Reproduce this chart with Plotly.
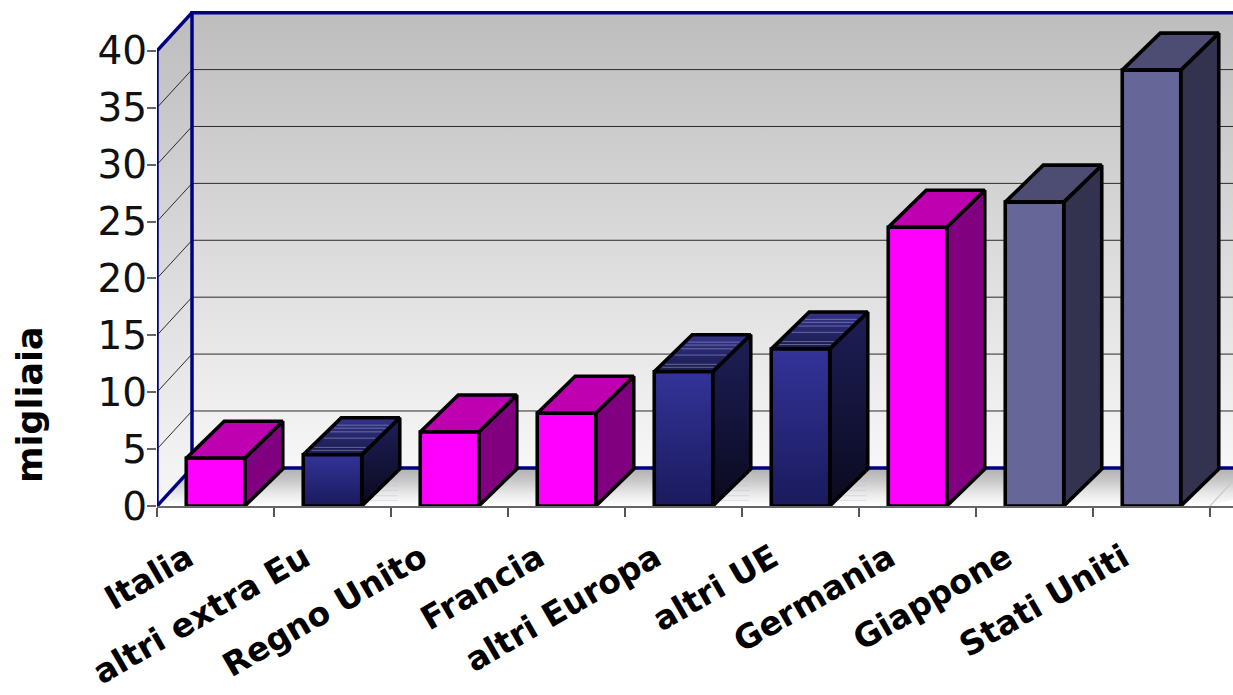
import plotly.graph_objects as go

categories = ["Italia", "altri extra Eu", "Regno Unito", "Francia", "altri Europa",
              "altri UE", "Germania", "Giappone", "Stati Uniti"]
values = [4.2, 4.5, 6.5, 8.15, 11.8, 13.8, 24.5, 26.7, 38.3]
groups = ["pink", "navy", "pink", "pink", "navy", "navy", "pink", "slate", "slate"]
y_ticks = [0, 5, 10, 15, 20, 25, 30, 35, 40]

PX_X, PX_Y = 117.0, 11.38
DX, DY = 35 / PX_X, 3.35          # wall depth, in axis units
BDX, BDY = 38 / PX_X, 3.25        # bar depth
BAR_W = 0.5
X_MAX = 1076 / PX_X
Y_MAX = 501 / PX_Y
NAVY = "#000080"

faces = {
    "pink": (["#ff00ff", "#ff00ff"], ["#800080", "#800080"], ["#bf00b0", "#bf00b0"]),
    "navy": (["#1a1a5c", "#333399"], ["#0a0a1e", "#1e1e58"], ["#1a1a4c", "#33338a"]),
    "slate": (["#666699", "#666699"], ["#333350", "#333350"], ["#4d4d73", "#4d4d73"]),
}

fig = go.Figure()


def poly(xs, ys, colors=None, color=None, line=None):
    kw = dict(x=xs + xs[:1], y=ys + ys[:1], mode="lines", fill="toself", hoverinfo="skip",
              showlegend=False, cliponaxis=False, line=dict(color="rgba(0,0,0,0)", width=0))
    if line:
        kw["line"] = dict(color=line, width=3.6)
    if colors:
        n = len(colors) - 1
        kw["fillgradient"] = dict(type="vertical",
                                  colorscale=[[i / n, c] for i, c in enumerate(colors)])
    else:
        kw["fillcolor"] = color
    fig.add_trace(go.Scatter(**kw))


def seg(xs, ys, color, width):
    fig.add_trace(go.Scatter(x=xs, y=ys, mode="lines", hoverinfo="skip", showlegend=False,
                             cliponaxis=False, line=dict(color=color, width=width)))


WALL = ["#f7f7f7", "#bdbdbd"]
top = y_ticks[-1]
# back wall and side wall
poly([DX, X_MAX + 1, X_MAX + 1, DX], [DY, DY, top + DY, top + DY], colors=WALL)
poly([0, DX, DX, 0], [0, DY, top + DY, top], colors=WALL)
# floor
poly([0, DX, X_MAX + 1, 9], [0, DY, DY, 0],
     colors=["#ffffff", "#e8e8e8", "#c8c8c8", "#b0b0b0"])
seg([9, 9 + DX], [0, DY], "#c8c8c8", 1.2)

# gridlines
for v in y_ticks[1:-1]:
    seg([0, DX, X_MAX + 1], [v, v + DY, v + DY], "#2a2a2a", 1)

# wall outlines
seg([X_MAX + 1, DX, DX, X_MAX + 1], [top + DY, top + DY, DY, DY], NAVY, 3.5)
seg([0, DX], [0, DY], NAVY, 3.5)
seg([0, 0, DX], [0, top, top + DY], NAVY, 3.5)

# bars
for i, (v, g) in enumerate(zip(values, groups)):
    x0 = i + (1 - BAR_W) / 2
    x1 = x0 + BAR_W
    front, side, cap = faces[g]
    poly([x1, x1 + BDX, x1 + BDX, x1], [0, BDY, v + BDY, v], colors=side, line="#000000")
    poly([x0, x1, x1 + BDX, x0 + BDX], [v, v, v + BDY, v + BDY], colors=cap, line="#000000")
    if g == "navy":
        for t in (0.12, 0.2, 0.45, 0.62, 0.72, 0.8):
            seg([x0 + t * BDX + 0.03, x1 + t * BDX - 0.03], [v + t * BDY] * 2, "rgba(190,190,225,0.45)", 1)
        for t in (0.15, 0.28, 0.42, 0.55, 0.68, 0.82, 0.92):
            seg([x1 + t * BDX + 0.02, x1 + BDX - 0.015], [t * BDY] * 2, "rgba(190,190,225,0.4)", 1)
    poly([x0, x1, x1, x0], [0, 0, v, v], colors=front, line="#000000")

label_pos = [i + 0.5 - 0.24 for i in range(len(categories))]

fig.update_layout(
    width=1233, height=695, autosize=False,
    margin=dict(l=157, r=0, t=5, b=189, autoexpand=False),
    paper_bgcolor="white", plot_bgcolor="white",
    font=dict(family="DejaVu Sans", color="black"),
    showlegend=False,
    xaxis=dict(range=[0, X_MAX], tickmode="array", tickvals=label_pos, ticktext=categories,
               tickangle=-30, tickfont=dict(size=33, family="DejaVu Sans", weight="bold"),
               ticks="", ticklabelstandoff=18, showgrid=False, zeroline=False,
               showline=True, linecolor="#666666", linewidth=1.5, automargin=False,
               minor=dict(tickmode="linear", tick0=0, dtick=1, ticks="outside", ticklen=9,
                          tickwidth=1.5, tickcolor="#555555", showgrid=False)),
    yaxis=dict(range=[0, Y_MAX], tickmode="array", tickvals=y_ticks,
               ticktext=[str(t) for t in y_ticks],
               tickfont=dict(size=39, family="DejaVu Sans", color="#111111"),
               ticks="outside", ticklen=9, tickwidth=1.5, tickcolor="#666666",
               ticklabelstandoff=-8,
               showgrid=False, zeroline=False, showline=False, automargin=False),
    annotations=[dict(text="<b>migliaia</b>", xref="paper", yref="paper", x=-0.118, y=0.2016,
                      xanchor="center", yanchor="middle", textangle=-90, showarrow=False,
                      font=dict(size=35, family="DejaVu Sans", color="black"))],
)

fig.write_html("out.html", config={"displayModeBar": False},
               post_script="document.body.style.margin='0';document.body.style.overflow='hidden';")
